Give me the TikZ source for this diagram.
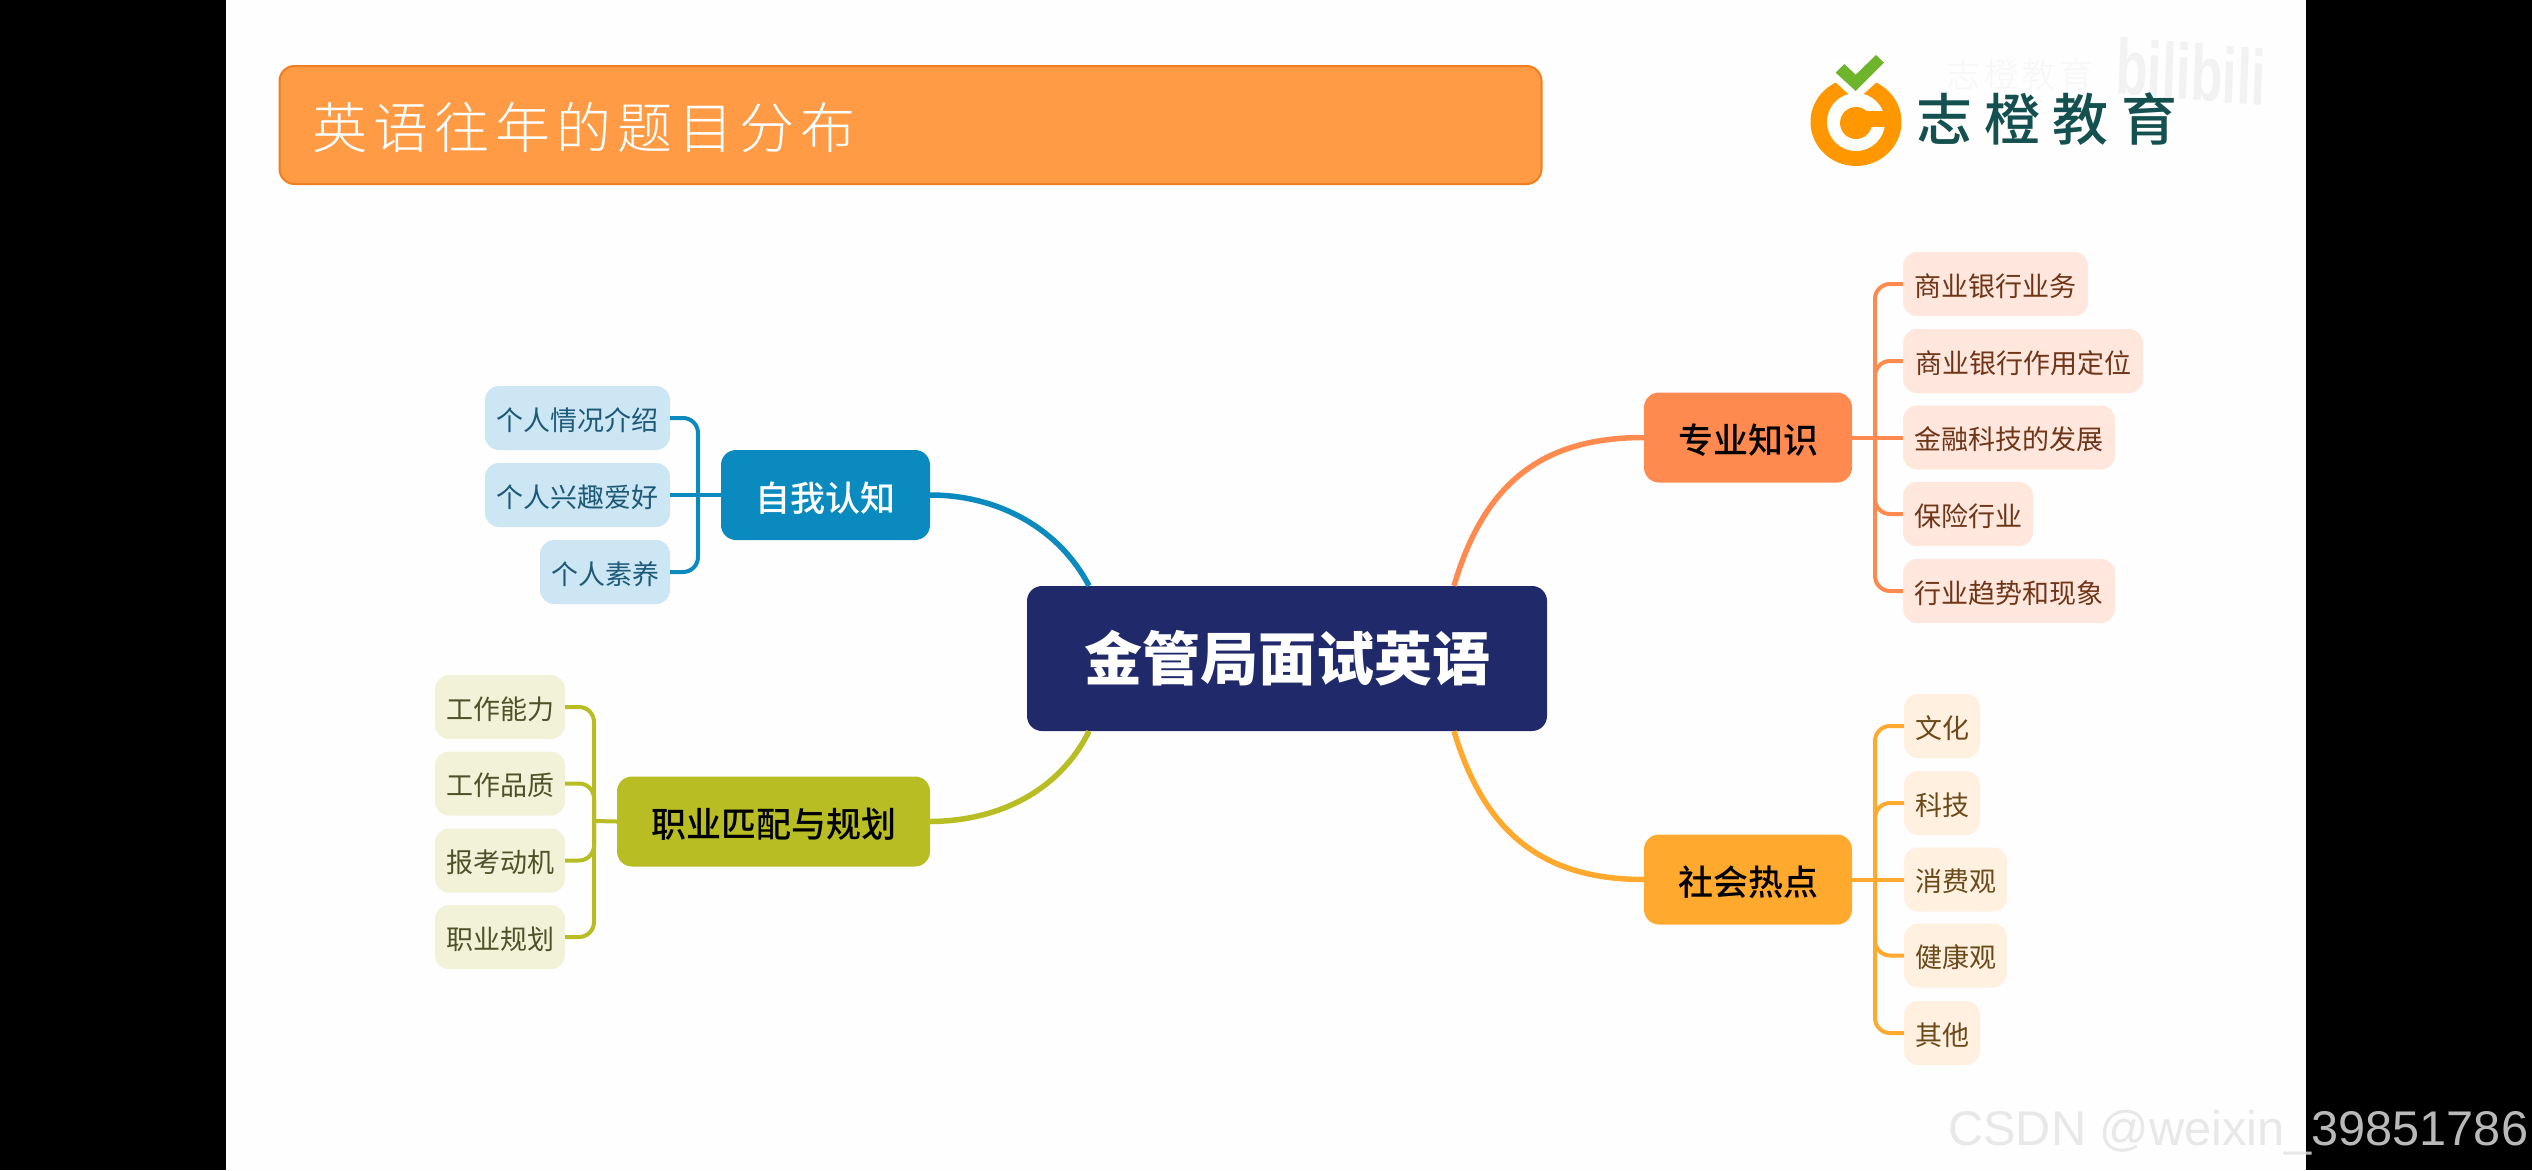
\documentclass[tikz,border=0pt]{standalone}
\usepackage{fontspec}
\setmainfont{Noto Sans CJK SC}
\newfontfamily\hdfont[LetterSpace=11]{Noto Sans CJK SC Light}
\newfontfamily\logofont[LetterSpace=22]{Noto Sans CJK SC Medium}
\newfontfamily\ghostfont[LetterSpace=10]{Noto Sans CJK SC Light}
\newfontfamily\medfont{Noto Sans CJK SC Medium}
\newfontfamily\wmfont{Liberation Sans}
\definecolor{cBlue}{HTML}{0A8ABF}\definecolor{cBlueL}{HTML}{CCE6F4}\definecolor{cBlueT}{HTML}{1D5A78}
\definecolor{cGreen}{HTML}{B7BD23}\definecolor{cGreenL}{HTML}{F1F2D8}\definecolor{cGreenT}{HTML}{4F5228}
\definecolor{cOrange}{HTML}{FF8A50}\definecolor{cOrangeL}{HTML}{FFE7DE}\definecolor{cOrangeT}{HTML}{6E3517}
\definecolor{cYellow}{HTML}{FFA92E}\definecolor{cYellowL}{HTML}{FFF0DF}\definecolor{cYellowT}{HTML}{6B4A1A}
\definecolor{cNavy}{HTML}{202A6B}\definecolor{cHead}{HTML}{FF9A45}\definecolor{cHeadB}{HTML}{F07F1F}
\definecolor{cLogoO}{HTML}{FF9800}\definecolor{cLogoG}{HTML}{6FB52C}\definecolor{cLogoT}{HTML}{14504F}
\tikzset{
  x=1pt,y=-1pt,
  basebox/.style={rounded corners=15pt,inner sep=0pt,align=center},
  branch/.style={basebox,minimum height=90pt,text height=32pt,text depth=0pt,font=\fontsize{35}{35}\selectfont\medfont,text=black},
  leafbox/.style={basebox,rounded corners=14pt,minimum height=64pt,text height=24pt,text depth=0pt,font=\fontsize{27}{27}\selectfont},
  leafB/.style={leafbox,fill=cBlueL,text=cBlueT},
  leafG/.style={leafbox,fill=cGreenL,text=cGreenT},
  leafO/.style={leafbox,fill=cOrangeL,text=cOrangeT},
  leafY/.style={leafbox,fill=cYellowL,text=cYellowT},
  mainline/.style={line width=5.5pt},
  twig/.style={line width=4pt,rounded corners=15pt},
}
\begin{document}
\begin{tikzpicture}
\useasboundingbox (0,0) rectangle (2532,1170);
\fill[black] (0,0) rectangle (2532,1170);
\fill[white!99.5!black] (226,0) rectangle (2306,1170);
% header
\node[rounded corners=15pt,fill=cHead,draw=cHeadB,line width=2pt,minimum width=1262pt,minimum height=118pt,inner sep=0pt] (hdr) at (910.5,125) {};
\node[anchor=west,inner sep=0pt,text=white,font=\fontsize{55}{55}\selectfont\hdfont] (hdt) at (312,127) {英语往年的题目分布};
% watermark and logo
\node[inner sep=0pt,text=black!5,yscale=1.5,rotate=-3,font=\fontsize{52}{52}\selectfont\wmfont\bfseries] (bili) at (2191,72) {bilibili};
\node[inner sep=0pt,text=black!3,font=\fontsize{34}{34}\selectfont\ghostfont] (ghost) at (2020,75) {志橙教育};
\fill[cLogoO] (1856,122) ellipse [x radius=45.5,y radius=44];
\fill[white] (1856,122) circle [radius=29];
\fill[cLogoO] (1856,123) circle [radius=16];
\fill[cLogoO] (1856,111) rectangle (1886,127);
\fill[white] (1830,77) -- (1856,101) -- (1882,77) -- (1882,60) -- (1830,60) -- cycle;
\fill[cLogoG] (1835.7,72.7) -- (1844.3,64) -- (1855.7,74.7) -- (1876,55) -- (1884,62.7) -- (1855.7,91) -- cycle;
\node[anchor=west,inner sep=0pt,text=cLogoT,font=\fontsize{56}{56}\selectfont\logofont] (logot) at (1916,119) {志橙教育};
% coordinates for spines
\coordinate (spO) at (1875,437.5);
\coordinate (spY) at (1875,879.5);
\coordinate (spB) at (698,495);
\coordinate (spG) at (594,821);
% centre
\node[basebox,fill=cNavy,text=white,minimum width=520pt,minimum height=145pt,font=\fontsize{58}{58}\selectfont\bfseries] (root) at (1287,658.5) {金管局面试英语};
% branches
\node[branch,fill=cOrange,minimum width=208pt] (bO) at (1748,437.5) {专业知识};
\node[branch,fill=cYellow,minimum width=208pt] (bY) at (1748,879.5) {社会热点};
\node[branch,fill=cBlue,text=white,minimum width=209pt] (bB) at (825.5,495) {自我认知};
\node[branch,fill=cGreen,minimum width=313pt] (bG) at (773.5,821.5) {职业匹配与规划};
% orange leaves
\node[leafO,minimum width=185pt] (o1) at (1995.5,284) {商业银行业务};
\node[leafO,minimum width=240pt] (o2) at (2023,361) {商业银行作用定位};
\node[leafO,minimum width=212pt] (o3) at (2009,437.5) {金融科技的发展};
\node[leafO,minimum width=130pt] (o4) at (1968,514) {保险行业};
\node[leafO,minimum width=212pt] (o5) at (2009,591) {行业趋势和现象};
% yellow leaves
\node[leafY,minimum width=76pt] (y1) at (1942,726) {文化};
\node[leafY,minimum width=76pt] (y2) at (1942,803) {科技};
\node[leafY,minimum width=103pt] (y3) at (1955.5,879.5) {消费观};
\node[leafY,minimum width=103pt] (y4) at (1955.5,955.5) {健康观};
\node[leafY,minimum width=76pt] (y5) at (1942,1033) {其他};
% blue leaves
\node[leafB,minimum width=185pt] (b1) at (577.5,418) {个人情况介绍};
\node[leafB,minimum width=185pt] (b2) at (577.5,495) {个人兴趣爱好};
\node[leafB,minimum width=130pt] (b3) at (605,572) {个人素养};
% green leaves
\node[leafG,minimum width=130pt] (g1) at (500,707) {工作能力};
\node[leafG,minimum width=130pt] (g2) at (500,783.5) {工作品质};
\node[leafG,minimum width=130pt] (g3) at (500,860.5) {报考动机};
\node[leafG,minimum width=130pt] (g4) at (500,937) {职业规划};
% main curves
\draw[mainline,cBlue] (bB.east) .. controls (1000,495) and (1060,530) .. (root.north west -| 1089,586);
\draw[mainline,cGreen] (bG.east) .. controls (1000,821) and (1060,790) .. (root.south west -| 1089,731);
\draw[mainline,cOrange] (root.north east -| 1454,586) .. controls (1485,480) and (1545,437.5) .. (bO.west);
\draw[mainline,cYellow] (root.south east -| 1454,731) .. controls (1485,835) and (1545,879.5) .. (bY.west);
% twigs
\draw[twig,cOrange] (bO.east) -- (o3.west);
\foreach \n in {o1,o2,o4,o5} \draw[twig,cOrange] (spO) |- (\n.west);
\draw[twig,cYellow] (bY.east) -- (y3.west);
\foreach \n in {y1,y2,y4,y5} \draw[twig,cYellow] (spY) |- (\n.west);
\draw[twig,cBlue] (bB.west) -- (b2.east);
\foreach \n in {b1,b3} \draw[twig,cBlue] (spB) |- (\n.east);
\draw[twig,cGreen] (bG.west) -- (spG);
\foreach \n in {g1,g2,g3,g4} \draw[twig,cGreen] (spG) |- (\n.east);
% csdn watermark
\node[anchor=base west,inner sep=0pt,text=black!9,font=\fontsize{48.7}{48.7}\selectfont\wmfont] (csdn) at (1948,1145) {CSDN @weixin\_39851786};
\fill[black,opacity=.2] (2306,1090) rectangle (2532,1170);
\end{tikzpicture}
\end{document}
